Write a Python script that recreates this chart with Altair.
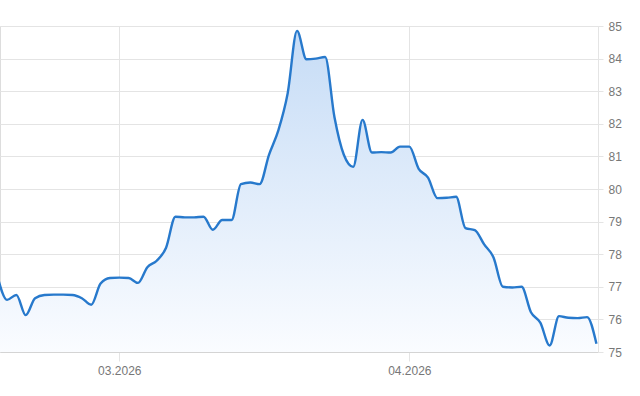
import altair as alt
import pandas as pd

dates = pd.date_range("2026-02-16", "2026-04-21", freq="D").strftime("%Y-%m-%d").tolist()
values = [
    77.30, 76.60, 76.75, 76.13, 76.65, 76.75, 76.76, 76.76, 76.75, 76.65,  # Feb 16-25
    76.45, 77.10, 77.27,                                                    # Feb 26-28
    77.28, 77.27, 77.12, 77.60, 77.80, 78.20, 79.15, 79.13, 79.13, 79.15,  # Mar 1-10
    78.75, 79.05, 79.05, 80.15, 80.20, 80.15, 81.05, 81.80, 82.94, 84.85,  # Mar 11-20
    83.98, 84.00, 84.05, 82.20, 81.05, 80.68, 82.12, 81.12, 81.13, 81.12,  # Mar 21-30
    81.30,                                                                  # Mar 31
    81.30, 80.62, 80.35, 79.72, 79.73, 79.76, 78.80, 78.74, 78.30, 77.90,  # Apr 1-10
    77.00, 76.98, 77.00, 76.22, 75.90, 75.20, 76.10, 76.05, 76.04, 76.07,  # Apr 11-20
    75.25,                                                                  # Apr 21
]
y_ticks = list(range(75, 86))
baseline = 75
month_ticks = [(2026, 3), (2026, 4)]

df = pd.DataFrame({"date": dates, "value": values})

x_enc = alt.X(
    "date:T",
    scale=alt.Scale(
        type="utc",
        domain=[
            alt.DateTime(year=2026, month=2, date=16, hours=6, utc=True),
            alt.DateTime(year=2026, month=4, date=21, hours=4, utc=True),
        ],
    ),
    axis=alt.Axis(
        values=[alt.DateTime(year=y, month=m, date=1, utc=True) for y, m in month_ticks],
        format="%m.%Y",
        title=None,
        grid=True,
        gridColor="#e4e4e4",
        tickColor="#e4e4e4",
        tickSize=9,
        domainColor="#d4d4d4",
        labelColor="#777777",
        labelFont="Liberation Sans",
        labelFontSize=12,
        labelPadding=4,
    ),
)
y_enc = alt.Y(
    "value:Q",
    scale=alt.Scale(domain=[75, 85], zero=False, nice=False),
    axis=alt.Axis(
        orient="right",
        values=y_ticks,
        tickCount=11,
        labelOverlap=False,
        title=None,
        grid=True,
        gridColor="#e4e4e4",
        tickColor="#e4e4e4",
        tickSize=5,
        domainColor="#e4e4e4",
        labelColor="#777777",
        labelFont="Liberation Sans",
        labelFontSize=12,
        labelPadding=5,
    ),
)

base = alt.Chart(df).encode(x=x_enc, y=y_enc)

area = base.mark_area(
    interpolate="monotone",
    stroke=None,
    fill=alt.Gradient(
        gradient="linear",
        x1=0, y1=0, x2=0, y2=1,
        stops=[
            alt.GradientStop(offset=0, color="#c6dcf6"),
            alt.GradientStop(offset=1, color="#fafcff"),
        ],
    ),
).encode(y2=alt.Y2(datum=baseline))

line = base.mark_line(
    interpolate="monotone",
    color="#2779cc",
    strokeWidth=2.4,
)

chart = (
    alt.layer(area, line)
    .properties(
        width=598,
        height=326,
        autosize=alt.AutoSizeParams(type="none"),
        padding={"left": 0, "top": 26, "right": 42, "bottom": 44},
    )
    .configure_view(stroke=None)
    .configure(background="white")
)

chart.save("out.html", embed_options={"renderer": "svg", "actions": False})
